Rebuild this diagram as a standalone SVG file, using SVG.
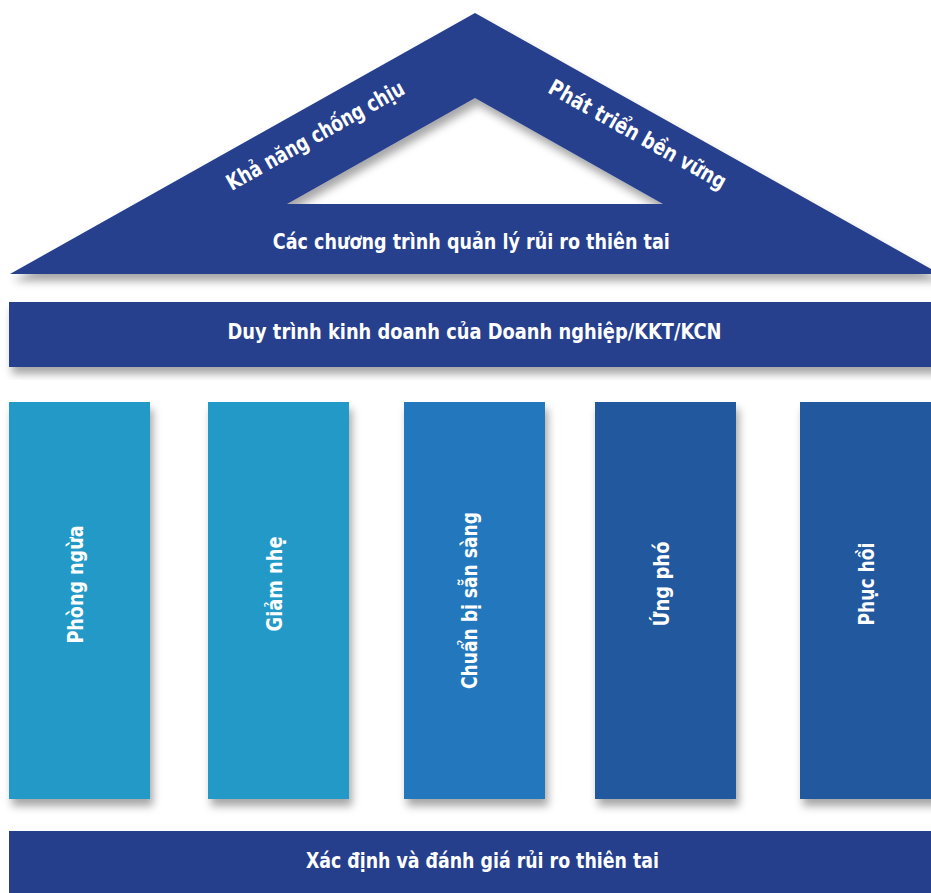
<svg xmlns="http://www.w3.org/2000/svg" width="931" height="893" viewBox="0 0 931 893">
  <defs>
    <filter id="sh" x="-10%" y="-10%" width="130%" height="130%">
      <feDropShadow dx="3" dy="7" stdDeviation="4" flood-color="#000" flood-opacity="0.35"/>
    </filter>
    <style>
      .navy { fill: #253F8D; }
      .c1 { fill: #2199C6; }
      .c3 { fill: #2277BD; }
      .c5 { fill: #21589E; }
      .t { fill: #FFFFFF; font-family: "Liberation Sans Narrow", "DejaVu Sans Condensed", Lato, sans-serif; font-weight: bold; font-size: 22px; text-anchor: middle; }
    </style>
  </defs>
  <rect width="931" height="893" fill="#FFFFFF"/>

  <g id="roof">
    <path class="navy" filter="url(#sh)" fill-rule="evenodd" d="M10,274 L475,13 L940,274 Z M287,204 L475,98 L663,204 Z"/>
    <text class="t" transform="translate(319,142) rotate(-29.3)" textLength="200" lengthAdjust="spacingAndGlyphs">Khả năng chống chịu</text>
    <text class="t" transform="translate(634,141) rotate(29.3)" textLength="200" lengthAdjust="spacingAndGlyphs">Phát triển bền vững</text>
    <text class="t" x="471.3" y="249" textLength="397" lengthAdjust="spacingAndGlyphs">Các chương trình quản lý rủi ro thiên tai</text>
  </g>

  <g id="business-continuity">
    <rect class="navy" filter="url(#sh)" x="9" y="302" width="935" height="65"/>
    <text class="t" x="474.5" y="338.5" textLength="494" lengthAdjust="spacingAndGlyphs">Duy trình kinh doanh của Doanh nghiệp/KKT/KCN</text>
  </g>

  <g id="col-prevention">
    <rect class="c1" filter="url(#sh)" x="9" y="402" width="141" height="397"/>
    <text class="t" transform="translate(82.5,584.5) rotate(-90)" textLength="118" lengthAdjust="spacingAndGlyphs">Phòng ngừa</text>
  </g>
  <g id="col-mitigation">
    <rect class="c1" filter="url(#sh)" x="208" y="402" width="141" height="397"/>
    <text class="t" transform="translate(281.5,584) rotate(-90)" textLength="95" lengthAdjust="spacingAndGlyphs">Giảm nhẹ</text>
  </g>
  <g id="col-preparedness">
    <rect class="c3" filter="url(#sh)" x="404" y="402" width="141" height="397"/>
    <text class="t" transform="translate(477,600.5) rotate(-90)" textLength="177" lengthAdjust="spacingAndGlyphs">Chuẩn bị sẵn sàng</text>
  </g>
  <g id="col-response">
    <rect class="c5" filter="url(#sh)" x="595" y="402" width="141" height="397"/>
    <text class="t" transform="translate(668.5,584) rotate(-90)" textLength="85" lengthAdjust="spacingAndGlyphs">Ứng phó</text>
  </g>
  <g id="col-recovery">
    <rect class="c5" filter="url(#sh)" x="800" y="402" width="141" height="397"/>
    <text class="t" transform="translate(873.5,584) rotate(-90)" textLength="83" lengthAdjust="spacingAndGlyphs">Phục hồi</text>
  </g>

  <g id="risk-assessment">
    <rect class="navy" x="9" y="831" width="935" height="70"/>
    <text class="t" x="482.4" y="868" textLength="353" lengthAdjust="spacingAndGlyphs">Xác định và đánh giá rủi ro thiên tai</text>
  </g>
</svg>
